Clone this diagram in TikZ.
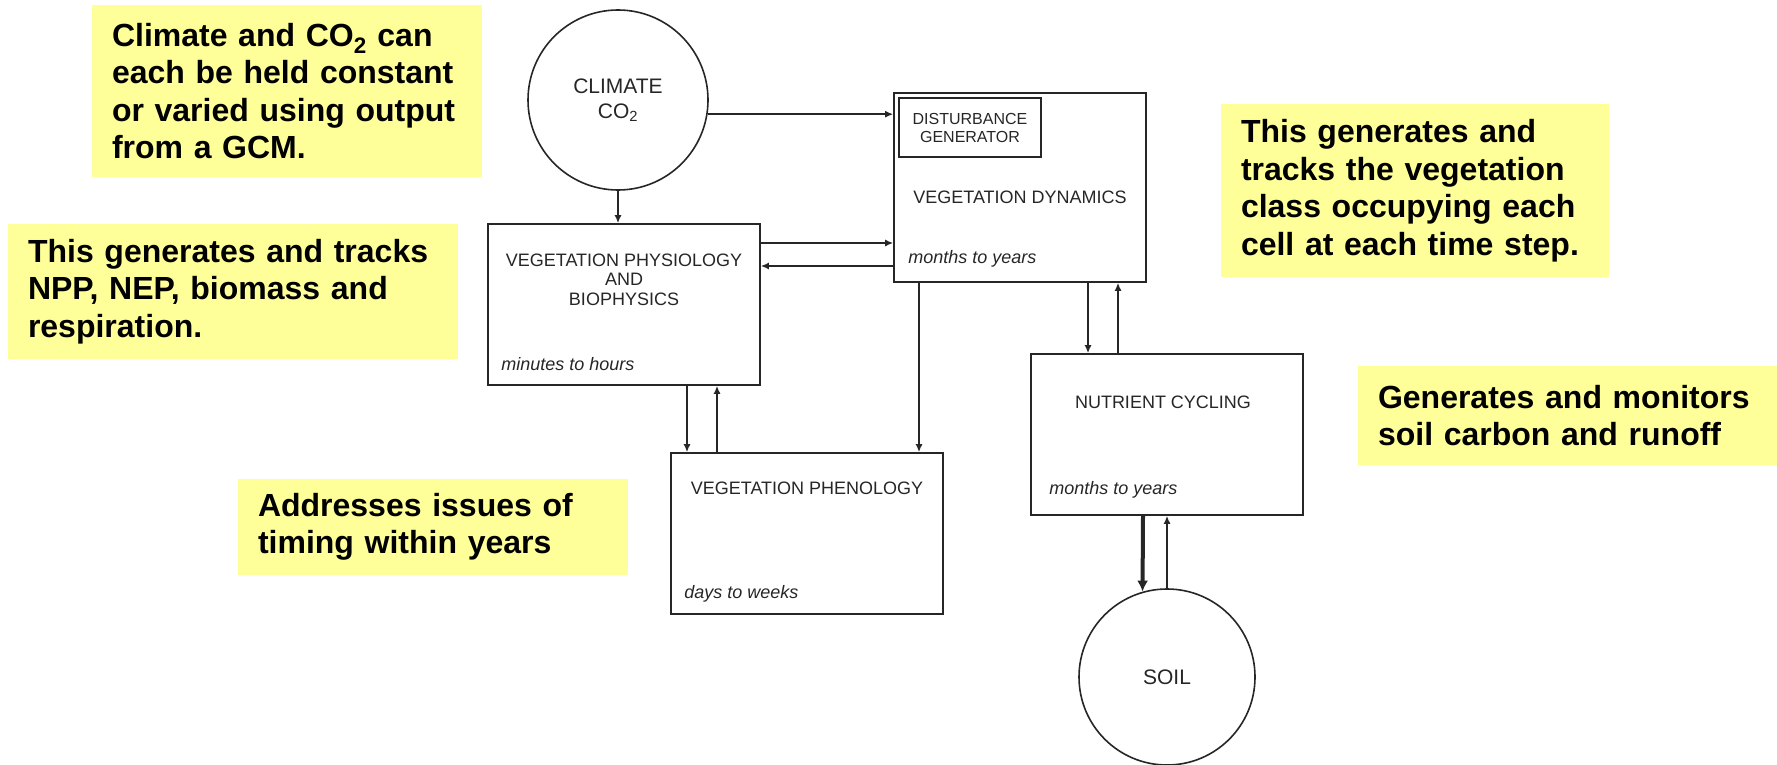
\documentclass[tikz,border=0pt]{standalone}
\usepackage{fontspec}
\setmainfont{Liberation Sans}
\usepackage{tikz}
\usetikzlibrary{positioning,arrows.meta}
\definecolor{notegelb}{HTML}{FFFF99}
\definecolor{ink}{gray}{0.15}
\tikzset{>={Latex[length=8pt,width=7pt]}}

\begin{document}
\begin{tikzpicture}[x=1pt,y=-1pt]
        \tikzset{
        modul/.style={draw=ink, line width=1.6pt, minimum width=272pt, minimum height=161pt, inner sep=0pt},
        pool/.style={circle, draw=ink, line width=1.6pt, minimum size=180pt, inner sep=0pt, text=ink, font=\fontsize{21}{25}\selectfont, align=center},
        titel/.style={text=ink, font=\fontsize{18}{19.5}\selectfont, align=center, inner sep=0pt},
        zeit/.style={text=ink, font=\fontsize{18}{20}\selectfont\itshape, anchor=base west, inner sep=0pt},
        notiz/.style={fill=notegelb, inner xsep=20pt, inner ysep=0pt, align=left, font=\fontsize{32}{37.5}\selectfont\bfseries},
        fluss/.style={->, draw=ink, line width=1.6pt},
        }
        \useasboundingbox (0,0) rectangle (1777,765);

        % Notes.
        \path (287,91)      node[notiz, minimum height=172pt, text width=350pt] (klimanotiz)  {Climate and CO\textsubscript{2} can\\each be held constant\\or varied using output\\from a GCM.};
        \path (233,291.5)   node[notiz, minimum height=135pt, text width=410pt] (physnotiz)   {This generates and tracks\\NPP, NEP, biomass and\\respiration.};
        \path (1415,190.5)  node[notiz, minimum height=173pt, text width=348pt] (dynnotiz)    {This generates and\\tracks the vegetation\\class occupying each\\cell at each time step.};
        \path (1567.5,415.5) node[notiz, minimum height=99pt, text width=379pt] (bodennotiz)  {Generates and monitors\\soil carbon and runoff};
        \path (433,527)     node[notiz, minimum height=96pt, text width=350pt]  (phaenonotiz) {Addresses issues of\\timing within years};

        % Pools.
        \path (618,100)  node[pool]                   (klima) {CLIMATE\\CO\textsubscript{2}};
        \path (1167,677) node[pool, minimum size=176pt] (boden) {SOIL};

        % Modules.
        \path (624,304.5)  node[modul]                                          (phys)   {};
        \path (1020,187.5) node[modul, minimum width=252pt, minimum height=189pt] (dyn)    {};
        \path (807,533.5)  node[modul]                                          (phaeno) {};
        \path (1167,434.5) node[modul]                                          (naehr)  {};
        \node[modul, minimum width=142pt, minimum height=59pt, text=ink, align=center,
              font=\fontsize{16}{18}\selectfont, below right=5pt and 5pt of dyn.north west] (stoer) {DISTURBANCE\\GENERATOR};

        \node[titel, below=30.5pt of phys.north]                (physname)   {VEGETATION PHYSIOLOGY\\AND\\BIOPHYSICS};
        \node[titel, below=98.5pt of dyn.north]                 (dynname)    {VEGETATION DYNAMICS};
        \node[titel, below=29.5pt of phaeno.north]              (phaenoname) {VEGETATION PHENOLOGY};
        \node[titel, below=42.5pt of naehr.north, xshift=-4pt]  (naehrname)  {NUTRIENT CYCLING};

        \path ([xshift=14pt,yshift=15pt]phys.south west)   node[zeit] (physzeit)   {minutes to hours};
        \path ([xshift=15pt,yshift=19pt]dyn.south west)    node[zeit] (dynzeit)    {months to years};
        \path ([xshift=14pt,yshift=16pt]phaeno.south west) node[zeit] (phaenozeit) {days to weeks};
        \path ([xshift=19pt,yshift=21pt]naehr.south west)  node[zeit] (naehrzeit)  {months to years};

        % Arrow lanes.
        \coordinate (xa) at (687,0);  % phys -> phaeno
        \coordinate (xb) at (717,0);  % phaeno -> phys
        \coordinate (xc) at (919,0);  % dyn -> phaeno
        \coordinate (xd) at (1088,0); % dyn -> naehr
        \coordinate (xe) at (1118,0); % naehr -> dyn
        \coordinate (xf) at (1143,0); % naehr -> boden
        \coordinate (ya) at (0,243);  % phys -> dyn
        \coordinate (yb) at (0,266);  % dyn -> phys

        \draw[fluss] (klima.south) -- (klima.south |- phys.north);
        \draw[fluss] (klima.-9) -- (klima.-9 -| dyn.west);
        \draw[fluss] (phys.east |- ya) -- (dyn.west |- ya);
        \draw[fluss] (dyn.west |- yb) -- (phys.east |- yb);
        \draw[fluss] (phys.south -| xa) -- (phaeno.north -| xa);
        \draw[fluss] (phaeno.north -| xb) -- (phys.south -| xb);
        \draw[fluss] (dyn.south -| xc) -- (phaeno.north -| xc);
        \draw[fluss] (dyn.south -| xd) -- (naehr.north -| xd);
        \draw[fluss] (naehr.north -| xe) -- (dyn.south -| xe);
        \draw[fluss, line width=4pt, -{Latex[length=11pt,width=11pt]}] (naehr.south -| xf) -- (boden.106);
        \draw[fluss] (boden.north) -- (naehr.south -| boden.north);
      \end{tikzpicture}
\end{document}
